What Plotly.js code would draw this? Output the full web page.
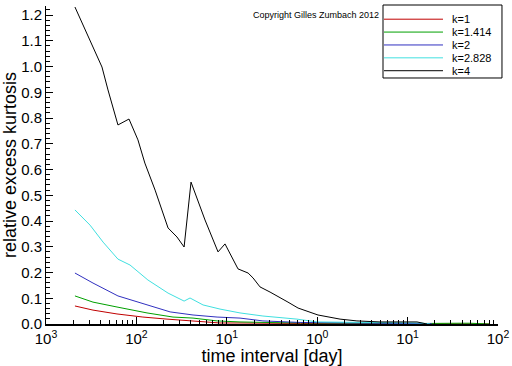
<!DOCTYPE html>
<html>
<head>
<meta charset="utf-8">
<script src="https://cdn.plot.ly/plotly-3.0.1.min.js"></script>
<style>html,body{margin:0;padding:0;background:#fff;}#chart{width:512px;height:366px;}</style>
</head>
<body>
<div id="chart"></div>
<script>
// time interval [day] and relative excess kurtosis for each k
const seriesNames = ["k=1", "k=1.414", "k=2", "k=2.828", "k=4"];
const seriesColors = ["#c00000", "#00a000", "#3030c0", "#40e0e0", "#000000"];

const xK1 = [0.00209, 0.00331, 0.00610, 0.0118, 0.0218, 0.0423, 0.0841, 0.140, 0.65, 13.7, 40, 80];
const yK1 = [0.070, 0.054, 0.039, 0.027, 0.019, 0.012, 0.004, 0.004, 0.002, 0.001, 0.001, 0.0];

const xK1414 = [0.00209, 0.00331, 0.00610, 0.0131, 0.0254, 0.0423, 0.078, 0.140, 0.39, 2.3, 13.7, 38, 49, 81];
const yK1414 = [0.109, 0.085, 0.066, 0.043, 0.027, 0.023, 0.012, 0.008, 0.005, 0.003, 0.002, 0.003, 0.003, 0.0];

const xK2 = [0.00209, 0.00331, 0.00625, 0.0131, 0.0236, 0.0423, 0.078, 0.140, 0.251, 0.65, 2.3, 10.5, 18.5];
const yK2 = [0.198, 0.159, 0.109, 0.074, 0.047, 0.035, 0.027, 0.023, 0.012, 0.006, 0.005, 0.004, 0.001];

const xK2828 = [0.00209, 0.00307, 0.00428, 0.00625, 0.00850, 0.0134, 0.0224, 0.0337, 0.0392, 0.0546, 0.0841, 0.140, 0.251, 0.597, 0.998, 2.97, 13.7, 17.7];
const yK2828 = [0.443, 0.384, 0.318, 0.252, 0.229, 0.171, 0.120, 0.089, 0.101, 0.074, 0.058, 0.043, 0.031, 0.019, 0.008, 0.006, 0.004, 0.0];

const xK4 = [0.00209, 0.00270, 0.00331, 0.00416, 0.00485, 0.00625, 0.00828, 0.0104, 0.0124, 0.0161, 0.0224, 0.0281, 0.0337, 0.0402, 0.0574, 0.0800, 0.0955, 0.133, 0.172, 0.195, 0.233, 0.301, 0.475, 0.614, 1.02, 1.79, 2.75, 4.95, 12.7, 16.4];
const yK4 = [1.231, 1.142, 1.072, 0.998, 0.909, 0.773, 0.796, 0.715, 0.625, 0.520, 0.373, 0.338, 0.299, 0.551, 0.404, 0.280, 0.311, 0.214, 0.198, 0.179, 0.144, 0.124, 0.085, 0.062, 0.035, 0.019, 0.012, 0.008, 0.008, 0.0];

const xTickVals = [0.001, 0.01, 0.1, 1, 10, 100];
const xTickText = ["10<sup>3</sup>", "10<sup>2</sup>", "10<sup>1</sup>", "10<sup>0</sup>", "10<sup>1</sup>", "10<sup>2</sup>"];
const yTickVals = [0.0, 0.1, 0.2, 0.3, 0.4, 0.5, 0.6, 0.7, 0.8, 0.9, 1.0, 1.1, 1.2];
const yTickText = ["0.0", "0.1", "0.2", "0.3", "0.4", "0.5", "0.6", "0.7", "0.8", "0.9", "1.0", "1.1", "1.2"];

const xs = [xK1, xK1414, xK2, xK2828, xK4];
const ys = [yK1, yK1414, yK2, yK2828, yK4];

const traces = seriesNames.map((name, i) => ({
  type: "scatter",
  mode: "lines",
  name: name,
  x: xs[i],
  y: ys[i],
  showlegend: false,
  line: {color: seriesColors[i], width: 1}
}));

// minor log ticks (2..9 within each decade)
const xMinor = [];
for (let d = -3; d < 2; d++) {
  for (let m = 2; m <= 9; m++) xMinor.push(m * Math.pow(10, d));
}

const font = "Liberation Sans, Arial, sans-serif";

// legend box (paper coordinates), drawn as shapes + text
const lgX0 = 0.7456, lgX1 = 1.0088, lgY0 = 0.7736, lgY1 = 1.0031;
const lgLineX0 = 0.7478, lgLineX1 = 0.8783, lgTextX = 0.8965;
const lgRowTop = 0.9585, lgRowStep = 0.0405;

const shapes = [{
  type: "rect", xref: "paper", yref: "paper",
  x0: lgX0, x1: lgX1, y0: lgY0, y1: lgY1,
  line: {color: "#000", width: 1}, fillcolor: "#ffffff", layer: "above"
}];
const annotations = [{
  text: "Copyright Gilles Zumbach 2012",
  xref: "paper", yref: "paper",
  x: 0.742, y: 0.972, xanchor: "right", yanchor: "middle",
  showarrow: false,
  font: {family: font, size: 9, color: "#000"}
}];
seriesNames.forEach((name, i) => {
  const yy = lgRowTop - i * lgRowStep;
  shapes.push({
    type: "line", xref: "paper", yref: "paper",
    x0: lgLineX0, x1: lgLineX1, y0: yy, y1: yy,
    line: {color: seriesColors[i], width: 1}, layer: "above"
  });
  annotations.push({
    text: name, xref: "paper", yref: "paper",
    x: lgTextX, y: yy, xanchor: "left", yanchor: "middle",
    showarrow: false, borderpad: 0,
    font: {family: font, size: 11, color: "#000"}
  });
});

const layout = {
  width: 512,
  height: 366,
  margin: {l: 46, r: 14, t: 6, b: 42},
  paper_bgcolor: "#ffffff",
  plot_bgcolor: "#ffffff",
  showlegend: false,
  xaxis: {
    type: "log",
    range: [-3, 2],
    tickmode: "array",
    tickvals: xTickVals,
    ticktext: xTickText,
    ticks: "inside",
    ticklen: 7,
    tickwidth: 1,
    tickcolor: "#000",
    showgrid: false,
    zeroline: false,
    showline: true,
    linecolor: "#000",
    linewidth: 2,
    tickfont: {family: font, size: 15, color: "#000"},
    minor: {tickmode: "array", tickvals: xMinor, ticks: "inside", ticklen: 4, tickcolor: "#000", showgrid: false},
    title: {text: "time interval [day]", font: {family: font, size: 18, color: "#000"}, standoff: 0}
  },
  yaxis: {
    range: [0, 1.235],
    tickmode: "array",
    tickvals: yTickVals,
    ticktext: yTickText,
    ticks: "inside",
    ticklen: 7,
    tickwidth: 1,
    tickcolor: "#000",
    showgrid: false,
    zeroline: false,
    showline: true,
    linecolor: "#000",
    linewidth: 1,
    tickfont: {family: font, size: 15, color: "#000"},
    minor: {dtick: 0.02, tick0: 0, ticks: "inside", ticklen: 4, tickcolor: "#000", showgrid: false},
    title: {text: "relative excess kurtosis", font: {family: font, size: 18, color: "#000"}, standoff: 4}
  },
  shapes: shapes,
  annotations: annotations
};

Plotly.newPlot("chart", traces, layout, {displayModeBar: false, staticPlot: true});
</script>
</body>
</html>
